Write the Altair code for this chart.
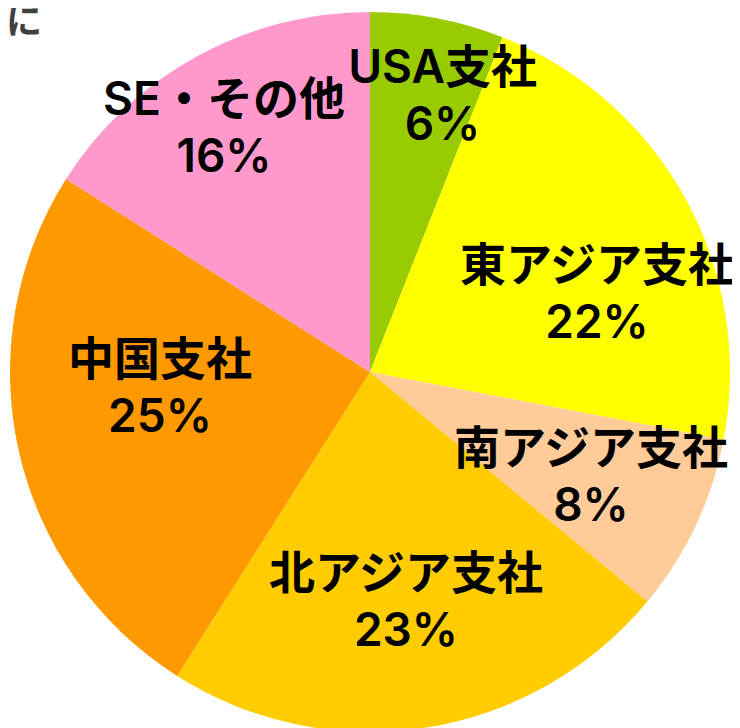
import altair as alt
import pandas as pd

# --- data ---
names = ["USA支社", "東アジア支社", "南アジア支社", "北アジア支社", "中国支社", "SE・その他"]
shares = [6, 22, 8, 23, 25, 16]
colors = ["#99CC00", "#FFFF00", "#FFCC99", "#FFCC00", "#FF9900", "#FF99CC"]

# label anchor positions (layout, chart pixel coords; first line centre)
label_x = [434.5, 589, 583, 398, 152, 216]
label_y = [61, 258.5, 442, 567, 352.5, 93]

df = pd.DataFrame({
    "name": names,
    "share": shares,
    "order": list(range(len(names))),
})
df["label"] = [f"{n}\n{v}%" for n, v in zip(names, shares)]
lab = df.copy()
lab["lx"] = label_x
lab["ly"] = label_y

pie = alt.Chart(df).mark_arc(radius=360, stroke=None).encode(
    theta=alt.Theta("share:Q", stack=True),
    color=alt.Color("name:N", scale=alt.Scale(domain=names, range=colors), legend=None),
    order=alt.Order("order:Q"),
    x=alt.value(362),
    y=alt.value(364),
)

text = alt.Chart(lab).mark_text(
    lineBreak="\n",
    fontSize=46,
    font="Inter, Noto Sans CJK JP",
    fontWeight=600,
    lineHeight=57,
    align="center",
    baseline="middle",
    color="#000000",
).encode(
    x=alt.X("lx:Q", scale=None),
    y=alt.Y("ly:Q", scale=None),
    text="label:N",
)

title_df = pd.DataFrame({"t": ["に"]})
title = alt.Chart(title_df).mark_text(
    fontSize=36,
    font="Noto Sans CJK JP",
    fontWeight="bold",
    align="left",
    baseline="middle",
    color="#404040",
).encode(x=alt.value(-2), y=alt.value(15), text="t:N")

chart = alt.layer(pie, text, title).properties(
    width=724,
    height=720,
    padding=0,
    autosize=alt.AutoSizeParams(type="none"),
).configure_view(stroke=None)

chart.save("out.html", embed_options={"renderer": "svg", "actions": False})
